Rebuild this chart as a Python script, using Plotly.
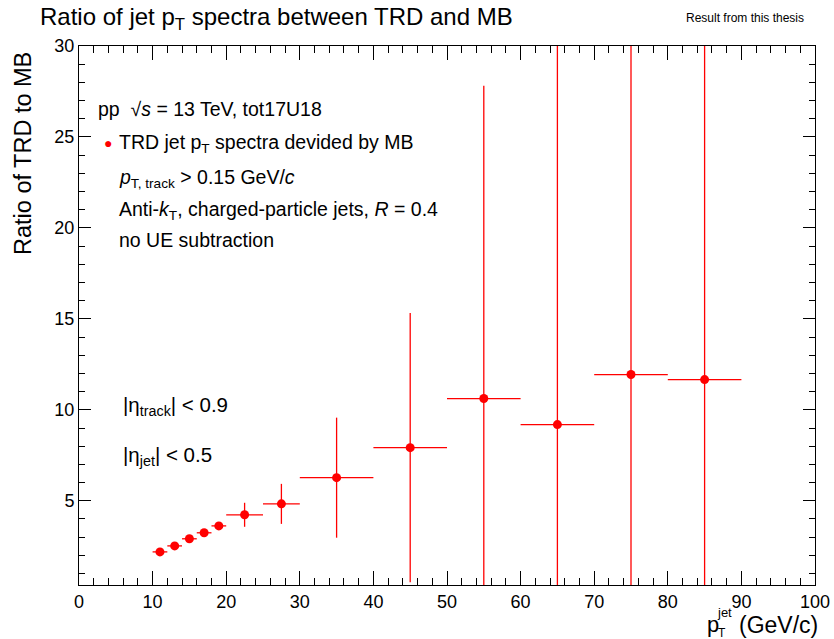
import plotly.graph_objects as go

# Data
pt_center = [11, 13, 15, 17, 19, 22.5, 27.5, 35, 45, 55, 65, 75, 85]
pt_halfwidth = [1, 1, 1, 1, 1, 2.5, 2.5, 5, 5, 5, 5, 5, 5]
ratio = [2.19, 2.52, 2.91, 3.24, 3.62, 4.23, 4.83, 6.27, 7.92, 10.62, 9.19, 11.94, 11.66]
ratio_err = [0.08, 0.1, 0.12, 0.15, 0.2, 0.66, 1.1, 3.3, 7.4, 17.2, 22.0, 25.0, 25.0]

x_ticks = [0, 10, 20, 30, 40, 50, 60, 70, 80, 90, 100]
y_ticks = [5, 10, 15, 20, 25, 30]

FONT = "Liberation Sans, Arial, Helvetica, sans-serif"
RED = "#ff0000"

fig = go.Figure()
fig.add_trace(go.Scatter(
    x=pt_center, y=ratio, mode="markers",
    marker=dict(color=RED, size=9, symbol="circle"),
    error_x=dict(type="data", array=pt_halfwidth, color=RED, thickness=1.3, width=0),
    error_y=dict(type="data", array=ratio_err, color=RED, thickness=1.3, width=0),
    showlegend=False,
))

axis_common = dict(
    showgrid=False, zeroline=False, automargin=False,
    showline=True, linecolor="black", linewidth=1, mirror="allticks",
    ticks="inside", tickcolor="black", tickwidth=1,
    tickfont=dict(family=FONT, size=18, color="black"),
)

fig.update_xaxes(
    range=[0, 100], tickvals=x_ticks, ticklen=14,
    minor=dict(ticks="inside", dtick=2, ticklen=7, tickcolor="black", tickwidth=1, showgrid=False),
    **axis_common,
)
fig.update_yaxes(
    range=[0.37, 30], tickvals=y_ticks, ticklen=12,
    minor=dict(ticks="inside", dtick=1, ticklen=6, tickcolor="black", tickwidth=1, showgrid=False),
    **axis_common,
)

ann = []
def add(text, x, y, size=18, xanchor="left", yanchor="middle", color="black", textangle=0):
    ann.append(dict(text=text, x=x, y=y, xref="paper", yref="paper", showarrow=False,
                    xanchor=xanchor, yanchor=yanchor, textangle=textangle,
                    font=dict(family=FONT, size=size, color=color)))

W, H = 834, 639
L, R, T, B = 79, 815, 46, 585
def px(xp): return (xp - L) / (R - L)
def py(yp): return (B - yp) / (B - T)

add("Ratio of jet p<sub>T</sub> spectra between TRD and MB", px(38), py(19), size=24)
add("Result from this thesis", px(684), py(18), size=12)
add("Ratio of TRD to MB", px(23), py(154), size=23.5, xanchor="center", textangle=-90)
add("pp  √<i>s</i> = 13 TeV, tot17U18", px(96), py(109), size=19.5)
add("●", px(108), py(143), size=14, xanchor="center", color=RED)
add("TRD jet p<sub>T</sub> spectra devided by MB", px(117), py(144), size=19.5)
add("<i>p</i><sub>T, track</sub> > 0.15 GeV/<i>c</i>", px(117), py(178), size=19.5)
add("Anti-<i>k</i><sub>T</sub>, charged-particle jets, <i>R</i> = 0.4", px(117), py(210), size=19.5)
add("no UE subtraction", px(117), py(240), size=19.5)
add("|η<sub>track</sub>| < 0.9", px(121), py(406), size=20.5)
add("|η<sub>jet</sub>| < 0.5", px(121), py(456), size=20.5)
# x-axis title with stacked sub/superscript
add("p", px(705), py(624), size=22)
add("jet", px(715), py(612), size=13)
add("T", px(716), py(633), size=12)
add("(GeV/c)", px(737), py(625), size=23)

fig.update_layout(
    width=W, height=H,
    margin=dict(l=L, r=W - R, t=T, b=H - B, pad=0),
    plot_bgcolor="white", paper_bgcolor="white",
    annotations=ann,
    font=dict(family=FONT),
)

fig.write_html("out.html")
